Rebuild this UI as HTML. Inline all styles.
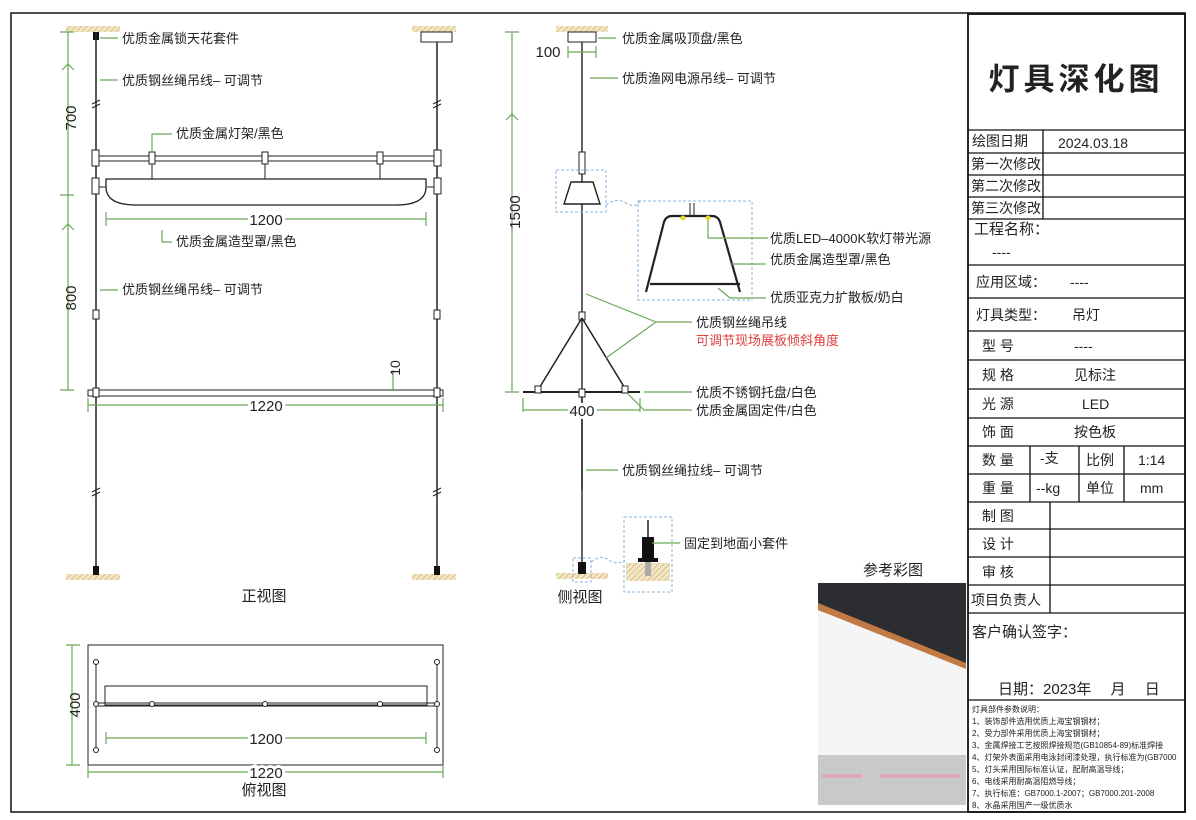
<!DOCTYPE html>
<html><head><meta charset="utf-8"><style>
body{margin:0;background:#fff}
svg{display:block}
text{font-family:"Liberation Sans","Noto Sans CJK SC",sans-serif;fill:#222}
.l{font-size:13px}
.g{stroke:#6aa85a;stroke-width:1.2;fill:none}
.k{stroke:#222;stroke-width:1.5;fill:none}
.b{stroke:#8ab4dc;stroke-width:1;fill:none;stroke-dasharray:3 2}
.t{font-size:14px}
</style></head><body>
<svg width="1196" height="820" viewBox="0 0 1196 820">
<defs>
<pattern id="h" width="4" height="4" patternUnits="userSpaceOnUse" patternTransform="rotate(45)"><rect width="4" height="4" fill="#f3e6c4"/><line x1="0" y1="0" x2="0" y2="4" stroke="#c8a86a" stroke-width="1.2"/></pattern>
</defs>
<rect x="11" y="13" width="1174" height="799" fill="none" stroke="#111" stroke-width="1.5"/>
<!-- FRONT VIEW -->
<rect x="66" y="26" width="54" height="6" fill="url(#h)"/>
<rect x="412" y="26" width="44" height="6" fill="url(#h)"/>
<rect x="66" y="574" width="54" height="6" fill="url(#h)"/>
<rect x="412" y="574" width="44" height="6" fill="url(#h)"/>
<rect x="421" y="32" width="31" height="10" fill="#fff" stroke="#222"/>
<rect x="93" y="32" width="6" height="8" fill="#111"/>
<line x1="96" y1="32" x2="96" y2="574" class="k" stroke-width="1.8"/>
<line x1="437" y1="42" x2="437" y2="574" class="k" stroke-width="1.8"/>
<rect x="93" y="566" width="6" height="9" fill="#111"/><rect x="434" y="566" width="6" height="9" fill="#111"/>
<path d="M92 104l8-4M92 108l8-4M433 104l8-4M433 108l8-4M92 492l8-4M92 496l8-4M433 492l8-4M433 496l8-4" stroke="#222"/>
<line x1="96" y1="156" x2="437" y2="156" stroke="#222"/><line x1="96" y1="161" x2="437" y2="161" stroke="#222"/>
<g fill="#fff" stroke="#222">
<rect x="92" y="150" width="7" height="16"/><rect x="149" y="152" width="6" height="12"/><rect x="262" y="152" width="6" height="12"/><rect x="377" y="152" width="6" height="12"/><rect x="434" y="150" width="7" height="16"/>
<rect x="92" y="178" width="7" height="16"/><rect x="434" y="178" width="7" height="16"/>
</g>
<path d="M152 164v15M265 164v15M380 164v15M99 187h7M427 187h7" stroke="#222"/>
<path d="M106 179h320v8q0 18-30 18H136q-30 0-30-18z" fill="#fff" stroke="#222" stroke-width="1.3"/>
<rect x="88" y="390" width="355" height="6" fill="#fff" stroke="#222"/>
<rect x="93" y="388" width="6" height="9" fill="#fff" stroke="#222"/><rect x="434" y="388" width="6" height="9" fill="#fff" stroke="#222"/>
<rect x="93" y="310" width="6" height="9" fill="#fff" stroke="#222"/><rect x="434" y="310" width="6" height="9" fill="#fff" stroke="#222"/>
<!-- front dims -->
<path class="g" d="M68 32v163M60 32h14M60 195h14M60 390h14M68 195v195M62 70l6-6 6 6M62 230l6-6 6 6"/>
<path class="g" d="M106 212v14M426 212v14M106 219h320M88 398v14M443 398v14M88 405h355M393 370v20"/>
<text x="76" y="118" transform="rotate(-90 76 118)" font-size="15" text-anchor="middle">700</text>
<text x="76" y="298" transform="rotate(-90 76 298)" font-size="15" text-anchor="middle">800</text>
<text x="266" y="225" font-size="15" text-anchor="middle" fill="#fff" stroke="#fff" stroke-width="6">1200</text>
<text x="266" y="225" font-size="15" text-anchor="middle">1200</text>
<text x="266" y="411" font-size="15" text-anchor="middle" fill="#fff" stroke="#fff" stroke-width="6">1220</text>
<text x="266" y="411" font-size="15" text-anchor="middle">1220</text>
<text x="400" y="368" transform="rotate(-90 400 368)" font-size="14" text-anchor="middle">10</text>
<path class="g" d="M100 38h18M100 80h18M152 152v-18h20M162 230v12h10M100 290h18"/>
<text class="l" x="122" y="43">优质金属锁天花套件</text>
<text class="l" x="122" y="85">优质钢丝绳吊线– 可调节</text>
<text class="l" x="176" y="138">优质金属灯架/黑色</text>
<text class="l" x="176" y="246">优质金属造型罩/黑色</text>
<text class="l" x="122" y="294">优质钢丝绳吊线– 可调节</text>
<text x="264" y="601" font-size="15" text-anchor="middle">正视图</text>
<!-- PLAN -->
<rect x="88" y="645" width="355" height="120" fill="#fff" stroke="#222"/>
<rect x="105" y="686" width="322" height="19" fill="none" stroke="#222"/>
<line x1="96" y1="703" x2="437" y2="703" stroke="#222"/><line x1="96" y1="706" x2="437" y2="706" stroke="#222"/>
<path d="M96 662v88M437 662v88" stroke="#222"/>
<g fill="#fff" stroke="#222"><circle cx="96" cy="662" r="2.5"/><circle cx="437" cy="662" r="2.5"/><circle cx="96" cy="750" r="2.5"/><circle cx="437" cy="750" r="2.5"/><circle cx="96" cy="704" r="2.5"/><circle cx="152" cy="704" r="2.5"/><circle cx="265" cy="704" r="2.5"/><circle cx="380" cy="704" r="2.5"/><circle cx="437" cy="704" r="2.5"/></g>
<path class="g" d="M72 645v120M66 645h14M66 765h14M106 732v12M426 732v12M106 738h320M88 766v12M443 766v12M88 772h355"/>
<text x="80" y="705" transform="rotate(-90 80 705)" font-size="15" text-anchor="middle">400</text>
<text x="266" y="744" font-size="15" text-anchor="middle" fill="#fff" stroke="#fff" stroke-width="6">1200</text>
<text x="266" y="744" font-size="15" text-anchor="middle">1200</text>
<text x="266" y="778" font-size="15" text-anchor="middle" fill="#fff" stroke="#fff" stroke-width="6">1220</text>
<text x="266" y="778" font-size="15" text-anchor="middle">1220</text>
<text x="264" y="795" font-size="15" text-anchor="middle">俯视图</text>
<!-- SIDE VIEW -->
<rect x="556" y="26" width="52" height="6" fill="url(#h)"/>
<rect x="556" y="573" width="52" height="6" fill="url(#h)"/>
<rect x="568" y="32" width="28" height="10" fill="#fff" stroke="#222"/>
<line x1="582" y1="42" x2="582" y2="490" stroke="#222" stroke-width="1.4"/>
<line x1="582" y1="392" x2="582" y2="573" stroke="#222" stroke-width="1.4"/>
<rect x="579" y="152" width="6" height="22" fill="#fff" stroke="#222"/>
<path d="M571 182h22l7 22h-36z" fill="#fff" stroke="#222" stroke-width="1.4"/>
<rect x="556" y="170" width="50" height="42" class="b"/>
<path d="M606 205q10-8 20-2t14-2" class="b"/>
<rect x="638" y="201" width="114" height="99" class="b"/>
<path d="M690 203v12M694 203v12" stroke="#222"/>
<path d="M646 292l18-70q2-6 8-6h40q6 0 8 6l20 70M650 284h90" stroke="#222" stroke-width="2.2" fill="none"/>
<circle cx="683" cy="218" r="2.5" fill="#e8d630"/><circle cx="708" cy="218" r="2.5" fill="#e8d630"/>
<rect x="579" y="312" width="6" height="8" fill="#fff" stroke="#222"/>
<path d="M582 318L538 390M582 318L626 390" stroke="#222" stroke-width="1.5"/>
<line x1="523" y1="392" x2="640" y2="392" stroke="#222" stroke-width="2"/>
<g fill="#fff" stroke="#222"><rect x="535" y="386" width="6" height="7"/><rect x="622" y="386" width="6" height="7"/><rect x="579" y="389" width="6" height="8"/></g>
<rect x="578" y="562" width="8" height="12" fill="#111"/>
<rect x="573" y="558" width="18" height="24" class="b"/>
<path d="M591 562q10-8 18-2t16 0" class="b"/>
<rect x="624" y="517" width="48" height="75" class="b"/>
<rect x="626" y="563" width="44" height="18" fill="url(#h)"/>
<line x1="648" y1="520" x2="648" y2="538" stroke="#222" stroke-width="1.5"/>
<rect x="642" y="537" width="12" height="22" fill="#111"/><rect x="638" y="558" width="20" height="4" fill="#111"/>
<rect x="645" y="562" width="6" height="14" fill="#aaa"/>
<!-- side dims -->
<path class="g" d="M512 32v360M505 32h14M505 392h14M506 120l6-6 6 6M568 46v12M596 46v12M568 52h28M523 398v14M640 398v14M523 410h117"/>
<text x="520" y="212" transform="rotate(-90 520 212)" font-size="15" text-anchor="middle">1500</text>
<text x="548" y="57" font-size="15" text-anchor="middle">100</text>
<text x="582" y="416" font-size="15" text-anchor="middle" fill="#fff" stroke="#fff" stroke-width="6">400</text>
<text x="582" y="416" font-size="15" text-anchor="middle">400</text>
<path class="g" d="M598 38h18M590 78h28M708 220v18h60M730 264h36M718 288l12 10h36M586 294l70 28M606 358l50-36M656 322h36M644 392h48M628 394l16 16h48M586 470h32M652 543h28"/>
<text class="l" x="622" y="43">优质金属吸顶盘/黑色</text>
<text class="l" x="622" y="83">优质渔网电源吊线– 可调节</text>
<text class="l" x="770" y="243">优质LED–4000K软灯带光源</text>
<text class="l" x="770" y="264">优质金属造型罩/黑色</text>
<text class="l" x="770" y="302">优质亚克力扩散板/奶白</text>
<text class="l" x="696" y="327">优质钢丝绳吊线</text>
<text class="l" x="696" y="345" fill="#e04040" style="fill:#e04040">可调节现场展板倾斜角度</text>
<text class="l" x="696" y="397">优质不锈钢托盘/白色</text>
<text class="l" x="696" y="415">优质金属固定件/白色</text>
<text class="l" x="622" y="475">优质钢丝绳拉线– 可调节</text>
<text class="l" x="684" y="548">固定到地面小套件</text>
<text x="580" y="602" font-size="15" text-anchor="middle">侧视图</text>
<!-- PHOTO -->
<text x="893" y="575" font-size="15" text-anchor="middle">参考彩图</text>
<rect x="818" y="583" width="148" height="222" fill="#f4f5f6"/>
<path d="M818 583h148v82L818 610z" fill="#2c2d30"/>
<path d="M818 603l148 60v6L818 610z" fill="#c27a45"/>
<path d="M818 755h148v50H818z" fill="#c8c9cb"/>
<path d="M822 774h40v4h-40zM880 774h80v4h-80z" fill="#e0a8b8"/>
<!-- TITLE BLOCK -->
<g stroke="#111" fill="none" stroke-width="1.3">
<rect x="968" y="14" width="217" height="798" stroke-width="1.8"/>
<path d="M968 130h217M968 153h217M968 175h217M968 197h217M968 219h217M968 265h217M968 298h217M968 331h217M968 360h217M968 389h217M968 418h217M968 446h217M968 474h217M968 502h217M968 529h217M968 557h217M968 585h217M968 613h217M968 700h217"/>
<path d="M1043 130v89M1030 446v56M1079 446v56M1124 446v56M1050 502v111"/>
</g>
<text x="1076" y="90" font-size="31" font-weight="bold" text-anchor="middle" letter-spacing="4">灯具深化图</text>
<text class="t" x="972" y="146">绘图日期</text><text class="t" x="1058" y="148">2024.03.18</text>
<text class="t" x="971" y="169">第一次修改</text><text class="t" x="971" y="191">第二次修改</text><text class="t" x="971" y="213">第三次修改</text>
<text x="974" y="234" font-size="15">工程名称：</text><text x="992" y="257" font-size="14">----</text>
<text class="t" x="976" y="287">应用区域：</text><text class="t" x="1070" y="287">----</text>
<text class="t" x="976" y="320">灯具类型：</text><text class="t" x="1072" y="320">吊灯</text>
<text class="t" x="982" y="351">型 号</text><text class="t" x="1074" y="351">----</text>
<text class="t" x="982" y="380">规 格</text><text class="t" x="1074" y="380">见标注</text>
<text class="t" x="982" y="409">光 源</text><text class="t" x="1082" y="409">LED</text>
<text class="t" x="982" y="437">饰 面</text><text class="t" x="1074" y="437">按色板</text>
<text class="t" x="982" y="465">数 量</text><text class="t" x="1040" y="463">-支</text><text class="t" x="1086" y="465">比例</text><text class="t" x="1138" y="465">1:14</text>
<text class="t" x="982" y="493">重 量</text><text class="t" x="1036" y="493">--kg</text><text class="t" x="1086" y="493">单位</text><text class="t" x="1140" y="493">mm</text>
<text class="t" x="982" y="521">制 图</text><text class="t" x="982" y="549">设 计</text><text class="t" x="982" y="577">审 核</text><text class="t" x="971" y="605">项目负责人</text>
<text x="972" y="637" font-size="15">客户确认签字：</text>
<text x="998" y="694" font-size="15">日期：2023年　 月　 日</text>
<g font-size="8">
<text x="972" y="712">灯具部件参数说明：</text>
<text x="972" y="724">1、装饰部件选用优质上海宝钢钢材；</text>
<text x="972" y="736">2、受力部件采用优质上海宝钢钢材；</text>
<text x="972" y="748">3、金属焊接工艺按照焊接规范(GB10854-89)标准焊接</text>
<text x="972" y="760">4、灯架外表面采用电泳封闭漆处理，执行标准为(GB7000</text>
<text x="972" y="772">5、灯头采用国际标准认证，配耐高温导线；</text>
<text x="972" y="784">6、电线采用耐高温阻燃导线；</text>
<text x="972" y="796">7、执行标准：GB7000.1-2007；GB7000.201-2008</text>
<text x="972" y="808">8、水晶采用国产一级优质水</text>
</g>
</svg>
</body></html>
